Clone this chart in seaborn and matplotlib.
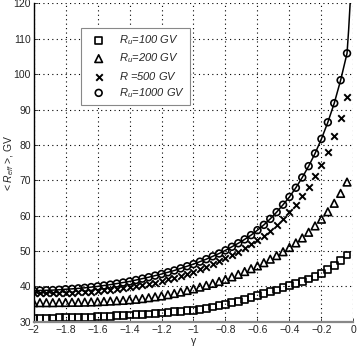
"""Mean effective rigidity versus spectral index for several upper cutoffs."""

import matplotlib

matplotlib.use("Agg")
import matplotlib.pyplot as plt
import pandas as pd
import seaborn as sns


GAMMA = [
    -2.00, -1.96, -1.92, -1.88, -1.84, -1.80, -1.76, -1.72, -1.68, -1.64,
    -1.60, -1.56, -1.52, -1.48, -1.44, -1.40, -1.36, -1.32, -1.28, -1.24,
    -1.20, -1.16, -1.12, -1.08, -1.04, -1.00, -0.96, -0.92, -0.88, -0.84,
    -0.80, -0.76, -0.72, -0.68, -0.64, -0.60, -0.56, -0.52, -0.48, -0.44,
    -0.40, -0.36, -0.32, -0.28, -0.24, -0.20, -0.16, -0.12, -0.08, -0.04,
]
R_100 = [
    31.0, 31.0, 31.0, 31.05, 31.1, 31.1, 31.15, 31.2, 31.25, 31.3,
    31.4, 31.5, 31.6, 31.7, 31.8, 31.9, 32.0, 32.1, 32.2, 32.35,
    32.5, 32.65, 32.8, 32.95, 33.1, 33.3, 33.55, 33.85, 34.2, 34.55,
    34.9, 35.35, 35.8, 36.3, 36.85, 37.4, 37.95, 38.5, 39.0, 39.6,
    40.2, 40.8, 41.4, 42.1, 42.8, 43.7, 44.8, 45.9, 47.3, 48.9,
]
R_200 = [
    35.4, 35.4, 35.4, 35.4, 35.45, 35.45, 35.5, 35.5, 35.55, 35.6,
    35.65, 35.75, 35.85, 35.95, 36.05, 36.2, 36.35, 36.55, 36.8, 37.05,
    37.3, 37.65, 38.0, 38.4, 38.85, 39.3, 39.8, 40.3, 40.85, 41.4,
    42.0, 42.7, 43.4, 44.2, 45.0, 45.8, 46.7, 47.7, 48.7, 49.8,
    51.0, 52.3, 53.7, 55.3, 57.1, 59.0, 61.1, 63.5, 66.3, 69.5,
]
R_500 = [
    38.0, 38.0, 38.05, 38.1, 38.15, 38.2, 38.25, 38.35, 38.45, 38.55,
    38.7, 38.85, 39.05, 39.25, 39.45, 39.7, 40.0, 40.3, 40.7, 41.1,
    41.5, 42.0, 42.5, 43.0, 43.6, 44.2, 44.9, 45.6, 46.3, 47.1,
    47.9, 48.8, 49.8, 50.8, 51.9, 53.0, 54.3, 55.7, 57.3, 59.1,
    61.0, 63.1, 65.5, 68.1, 71.1, 74.4, 78.1, 82.4, 87.6, 93.6,
]
R_1000 = [
    38.8, 38.85, 38.9, 38.95, 39.05, 39.2, 39.3, 39.45, 39.6, 39.8,
    40.0, 40.25, 40.5, 40.8, 41.1, 41.4, 41.8, 42.2, 42.6, 43.05,
    43.5, 44.0, 44.5, 45.1, 45.7, 46.3, 47.0, 47.7, 48.5, 49.3,
    50.2, 51.2, 52.2, 53.3, 54.5, 55.9, 57.4, 59.1, 61.0, 63.1,
    65.3, 67.9, 70.8, 74.0, 77.6, 81.7, 86.4, 91.8, 98.3, 105.9,
]
# the solid curve follows the 1000 GV points and then runs off the top
CURVE_TAIL_GAMMA = [-0.03, -0.02, -0.015]
CURVE_TAIL_R = [112.5, 120.5, 125.0]

LABELS = [r"$R_u$=100 GV", r"$R_u$=200 GV", r"$R$ =500 GV", r"$R_u$=1000 GV"]
MARKERS = ["s", "^", "x", "o"]
X_TICKS = [-2, -1.8, -1.6, -1.4, -1.2, -1, -0.8, -0.6, -0.4, -0.2, 0]
X_TICK_LABELS = ["\u22122", "\u22121.8", "\u22121.6", "\u22121.4", "\u22121.2", "\u22121",
                 "\u22120.8", "\u22120.6", "\u22120.4", "\u22120.2", "0"]
Y_TICKS = [30, 40, 50, 60, 70, 80, 90, 100, 110, 120]


def setup_style() -> None:
    sns.set_style("ticks")
    plt.rcParams["font.family"] = ["Liberation Sans", "DejaVu Sans"]
    plt.rcParams["mathtext.fontset"] = "custom"
    plt.rcParams["mathtext.rm"] = "Liberation Sans"
    plt.rcParams["mathtext.it"] = "Liberation Sans:italic"
    plt.rcParams["font.size"] = 7.5


def main() -> None:
    setup_style()
    series = [R_100, R_200, R_500, R_1000]
    df = pd.concat(
        [pd.DataFrame({"gamma": GAMMA, "r": vals, "set": lab}) for vals, lab in zip(series, LABELS)],
        ignore_index=True,
    )
    curve = pd.DataFrame({"gamma": GAMMA + CURVE_TAIL_GAMMA, "r": R_1000 + CURVE_TAIL_R})

    fig = plt.figure(figsize=(3.57, 3.46), dpi=100)
    ax = fig.add_axes([0.094, 0.070, 0.896, 0.920])

    sns.lineplot(data=curve, x="gamma", y="r", color="black", linewidth=1.1, ax=ax, sort=False)
    for lab, mk in zip(LABELS, MARKERS):
        sub = df[df["set"] == lab]
        if mk == "x":
            sns.scatterplot(data=sub, x="gamma", y="r", marker="x", color="black",
                            s=22, linewidth=1.4, ax=ax, label=lab)
        else:
            sns.scatterplot(data=sub, x="gamma", y="r", marker=mk, facecolors="none",
                            edgecolor="black", s=24 if mk != "^" else 30, linewidth=1.2,
                            ax=ax, label=lab)

    ax.set_xlim(-2, 0)
    ax.set_ylim(30, 120)
    ax.set_xticks(X_TICKS)
    ax.set_xticklabels(X_TICK_LABELS)
    ax.set_yticks(Y_TICKS)
    ax.grid(True, linestyle=(0, (1, 3)), color="black", linewidth=0.8)
    ax.tick_params(direction="in", length=3, width=0.6, pad=2)
    for side in ["top", "right"]:
        ax.spines[side].set_visible(False)
    ax.spines["left"].set_color("black")
    ax.spines["left"].set_linewidth(1.0)
    ax.spines["bottom"].set_color("#888888")
    ax.spines["bottom"].set_linewidth(1.6)

    ax.set_xlabel("\u03b3", labelpad=1)
    ax.set_ylabel(r"< $R_{eff}$ >, GV", fontsize=7.5)
    ax.yaxis.set_label_coords(-0.056, 0.5)

    leg = ax.legend(loc="upper left", bbox_to_anchor=(0.148, 0.923), borderaxespad=0,
                    frameon=True, fancybox=False, edgecolor="#888888", framealpha=1,
                    handletextpad=0.7, labelspacing=0.38, borderpad=0.5, handlelength=2.2,
                    prop={"style": "italic", "size": 8})
    leg.get_frame().set_linewidth(0.8)

    fig.savefig("out.png", dpi=100)
    plt.close(fig)


if __name__ == "__main__":
    main()
